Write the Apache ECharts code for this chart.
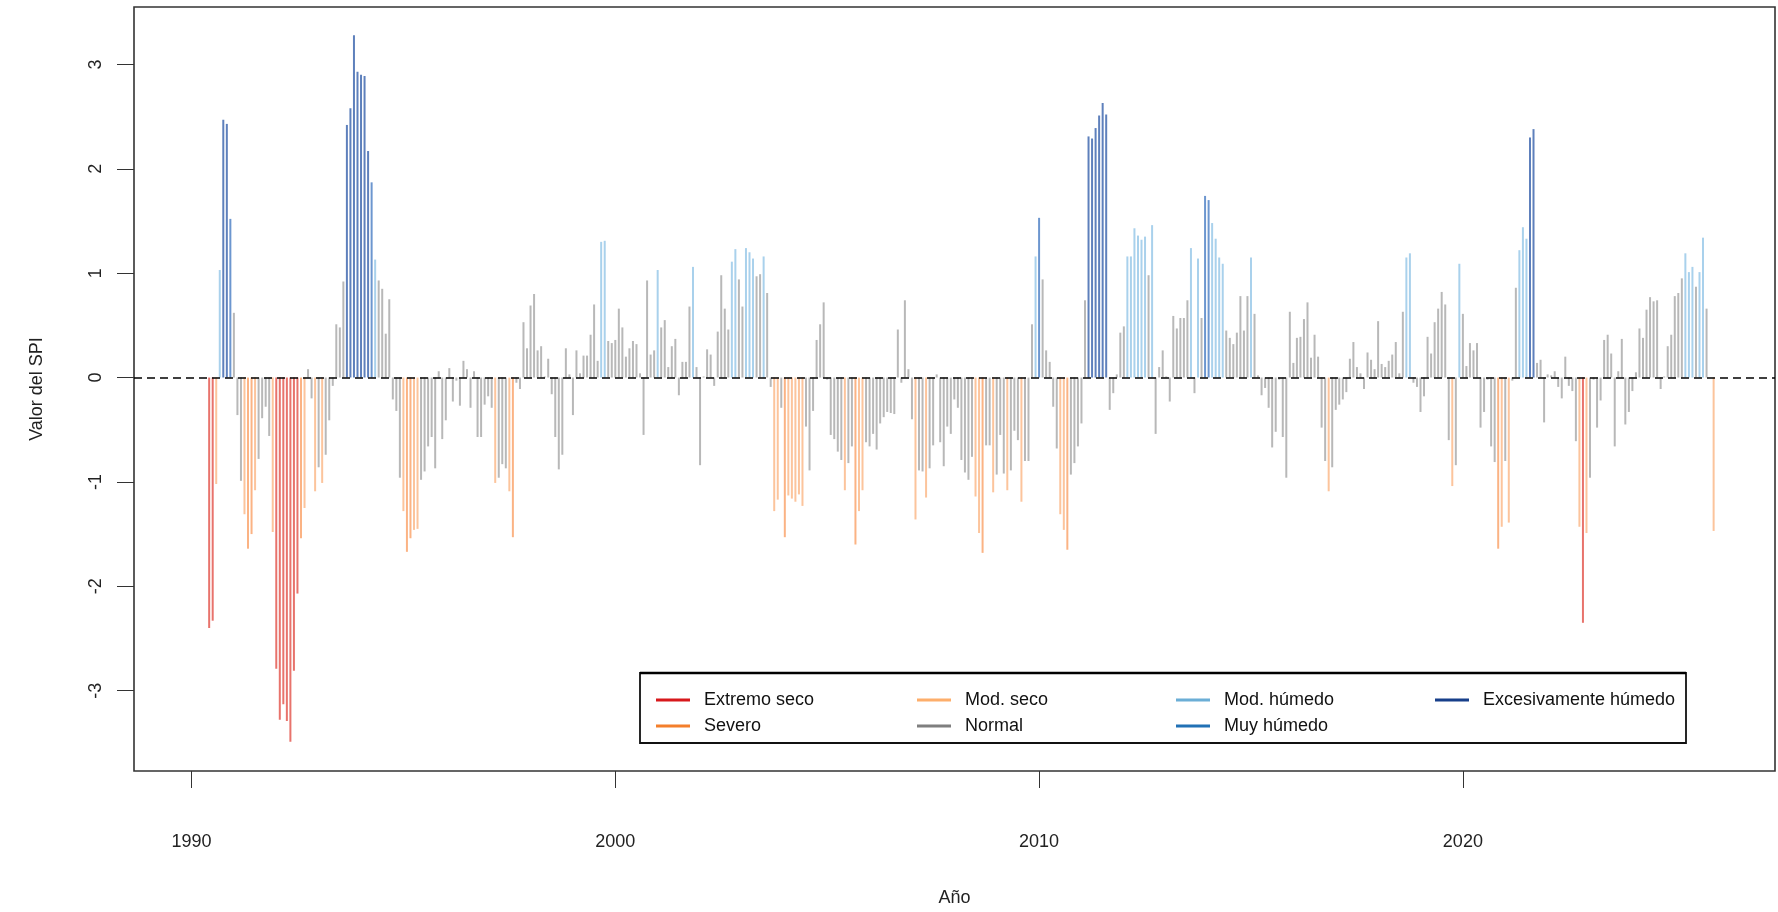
<!DOCTYPE html>
<html>
<head>
<meta charset="utf-8">
<script src="https://cdn.jsdelivr.net/npm/echarts@6/dist/echarts.min.js"></script>
<style>
html,body{margin:0;padding:0;background:#fff;}
#chart{width:1778px;height:912px;}
</style>
</head>
<body>
<div id="chart"></div>
<script>
// ---- Data (monthly SPI, first value = June 1990) ----
const START_YEAR = 1990;
const START_MONTH = 6;

const spi_1990_1994 = [
  -2.40,-2.33,-1.02,1.03,2.47,2.43,1.52,
  0.62,-0.36,-0.99,-1.31,-1.64,-1.50,-1.08,-0.78,-0.39,-0.28,-0.56,-1.48,
  -2.79,-3.28,-3.13,-3.29,-3.49,-2.81,-2.07,-1.54,-1.25,0.08,-0.20,-1.09,
  -0.86,-1.01,-0.74,-0.41,-0.08,0.51,0.48,0.92,2.42,2.58,3.28,2.93,
  2.90,2.89,2.17,1.87,1.13,0.93,0.85,0.42,0.75,-0.21,-0.32,-0.96
];
const spi_1995_1999 = [
  -1.28,-1.67,-1.54,-1.46,-1.45,-0.98,-0.90,-0.66,-0.57,-0.87,0.06,-0.59,
  -0.41,0.09,-0.23,-0.03,-0.27,0.16,0.08,-0.29,0.06,-0.57,-0.57,-0.26,
  -0.18,-0.29,-1.01,-0.96,-0.83,-0.87,-1.09,-1.53,-0.05,-0.11,0.53,0.28,
  0.69,0.80,0.26,0.30,0.01,0.18,-0.16,-0.57,-0.88,-0.74,0.28,0.03,
  -0.36,0.26,0.04,0.21,0.21,0.41,0.70,0.16,1.30,1.31,0.35,0.33
];
const spi_2000_2004 = [
  0.36,0.66,0.48,0.20,0.28,0.35,0.32,0.04,-0.55,0.93,0.22,0.26,
  1.03,0.48,0.55,0.10,0.30,0.37,-0.17,0.15,0.15,0.68,1.06,0.10,
  -0.84,0.01,0.27,0.22,-0.08,0.44,0.98,0.66,0.46,1.11,1.23,0.94,
  0.68,1.24,1.20,1.14,0.97,0.99,1.16,0.81,-0.09,-1.28,-1.17,-0.29,
  -1.53,-1.13,-1.16,-1.19,-1.12,-1.23,-0.47,-0.89,-0.32,0.36,0.51,0.72
];
const spi_2005_2009 = [
  -0.02,-0.55,-0.59,-0.71,-0.79,-1.08,-0.82,-0.66,-1.60,-1.28,-1.08,-0.62,
  -0.66,-0.54,-0.69,-0.44,-0.38,-0.33,-0.34,-0.35,0.46,-0.05,0.74,0.08,
  -0.40,-1.36,-0.89,-0.90,-1.15,-0.87,-0.65,0.03,-0.62,-0.85,-0.47,-0.54,
  -0.21,-0.29,-0.79,-0.91,-0.98,-0.76,-1.14,-1.49,-1.68,-0.65,-0.65,-1.10,
  -0.93,-0.55,-0.92,-1.08,-0.89,-0.51,-0.60,-1.19,-0.80,-0.80,0.51,1.16
];
const spi_2010_2014 = [
  1.53,0.94,0.26,0.15,-0.28,-0.68,-1.31,-1.46,-1.65,-0.93,-0.82,-0.66,
  -0.44,0.74,2.31,2.29,2.39,2.51,2.63,2.52,-0.31,-0.15,0.03,0.43,
  0.49,1.16,1.16,1.43,1.36,1.32,1.35,0.98,1.46,-0.54,0.10,0.26,
  0.01,-0.23,0.59,0.47,0.57,0.57,0.74,1.24,-0.15,1.14,0.57,1.74,
  1.70,1.48,1.33,1.15,1.09,0.45,0.38,0.32,0.43,0.78,0.45,0.78
];
const spi_2015_2019 = [
  1.15,0.61,0.02,-0.17,-0.10,-0.29,-0.67,-0.52,-0.02,-0.57,-0.96,0.63,
  0.14,0.38,0.39,0.56,0.72,0.19,0.41,0.20,-0.48,-0.80,-1.09,-0.86,
  -0.31,-0.26,-0.21,-0.14,0.18,0.34,0.10,0.04,-0.11,0.24,0.17,0.08,
  0.54,0.13,0.10,0.16,0.22,0.34,0.04,0.63,1.15,1.19,-0.05,-0.09,
  -0.33,-0.18,0.39,0.23,0.53,0.66,0.82,0.70,-0.60,-1.04,-0.84,1.09
];
const spi_2020_2025 = [
  0.61,0.11,0.33,0.26,0.33,-0.48,-0.33,-0.02,-0.66,-0.81,-1.64,-1.43,
  -0.80,-1.39,-0.03,0.86,1.22,1.44,1.33,2.30,2.38,0.14,0.17,-0.43,
  0.03,0.02,0.06,-0.09,-0.20,0.20,-0.08,-0.13,-0.61,-1.43,-2.35,-1.49,
  -0.96,-0.02,-0.48,-0.22,0.36,0.41,0.23,-0.66,0.06,0.37,-0.45,-0.33,
  -0.13,0.05,0.47,0.38,0.65,0.77,0.73,0.74,-0.11,0.01,0.30,0.41,
  0.78,0.81,0.95,1.19,1.01,1.06,0.87,1.01,1.34,0.66,null,-1.47
];

const classNames = ['Extremo seco','Severo','Mod. seco','Normal','Mod. húmedo','Muy húmedo','Excesivamente húmedo'];
const legendColors = ['#d7191c','#f47f2b','#fdae6b','#7f7f7f','#6baed6','#2171b5','#173f8a'];
const barColors    = ['#e8736c','#fbb384','#fcc49c','#b8b8b8','#a9d1ec','#6c96cf','#5e80bc'];

const xTicks = [1990, 2000, 2010, 2020];
const yTicks = [-3, -2, -1, 0, 1, 2, 3];

// ---- Build ----
const spiAll = [].concat(spi_1990_1994, spi_1995_1999, spi_2000_2004, spi_2005_2009,
                         spi_2010_2014, spi_2015_2019, spi_2020_2025);

function classOf(v) {
  if (v <= -2.0) return 0;
  if (v <= -1.5) return 1;
  if (v <= -1.0) return 2;
  if (v < 1.0) return 3;
  if (v < 1.5) return 4;
  if (v < 2.0) return 5;
  return 6;
}

const perClass = classNames.map(() => []);
spiAll.forEach((v, i) => {
  if (v === null) return;
  const t = START_YEAR + (START_MONTH - 1 + i) / 12;
  perClass[classOf(v)].push([t, v]);
});

const FONT = '"Liberation Sans", Arial, Helvetica, sans-serif';

const series = classNames.map((name, k) => {
  const s = {
    name: name,
    type: 'bar',
    data: perClass[k],
    barWidth: 2,
    barGap: '-100%',
    itemStyle: { color: barColors[k] },
    emphasis: { disabled: true },
    silent: true,
    z: 2
  };
  if (k === classNames.length - 1) {
    s.markLine = {
      silent: true,
      symbol: ['none', 'none'],
      label: { show: false },
      lineStyle: { color: '#000', type: [8, 5], width: 1.6 },
      data: [{ yAxis: 0 }],
      z: 5
    };
  }
  return s;
});

function legendBlock(names, left) {
  return {
    orient: 'vertical',
    left: left,
    top: 691,
    itemWidth: 34,
    itemHeight: 3,
    itemGap: 8,
    icon: 'rect',
    selectedMode: false,
    padding: 0,
    textStyle: { fontSize: 18, color: '#111', fontFamily: FONT, lineHeight: 18, padding: [0, 0, 0, 9] },
    data: names.map(n => ({ name: n, itemStyle: { color: legendColors[classNames.indexOf(n)] } }))
  };
}

const chart = echarts.init(document.getElementById('chart'), null, { renderer: 'canvas' });
chart.setOption({
  animation: false,
  backgroundColor: '#fff',
  textStyle: { fontFamily: FONT },
  grid: {
    left: 134, right: 3, top: 7, bottom: 132,
    show: true, borderColor: '#333', borderWidth: 1.6, backgroundColor: 'transparent'
  },
  xAxis: {
    type: 'value',
    min: 1988.643, max: 2027.365,
    axisLine: { show: false, onZero: false },
    splitLine: { show: false },
    axisTick: { show: true, customValues: xTicks, length: 17, lineStyle: { color: '#333', width: 1 } },
    axisLabel: { customValues: xTicks, fontSize: 18, color: '#222', margin: 62, fontFamily: FONT,
                 formatter: v => String(Math.round(v)) },
    name: 'Año',
    nameLocation: 'middle',
    nameGap: 118,
    nameTextStyle: { fontSize: 18, color: '#222', fontFamily: FONT }
  },
  yAxis: {
    type: 'value',
    min: -3.77, max: 3.55,
    axisLine: { show: false, onZero: false },
    splitLine: { show: false },
    axisTick: { show: true, customValues: yTicks, length: 17, lineStyle: { color: '#333', width: 1 } },
    axisLabel: { customValues: yTicks, rotate: 90, fontSize: 18, color: '#222', margin: 29, fontFamily: FONT,
                 formatter: v => String(Math.round(v)) },
    name: 'Valor del SPI',
    nameLocation: 'middle',
    nameGap: 88,
    nameTextStyle: { fontSize: 18, color: '#222', fontFamily: FONT }
  },
  legend: [
    legendBlock(['Extremo seco', 'Severo'], 656),
    legendBlock(['Mod. seco', 'Normal'], 917),
    legendBlock(['Mod. húmedo', 'Muy húmedo'], 1176),
    legendBlock(['Excesivamente húmedo'], 1435)
  ],
  graphic: [
    { type: 'rect', shape: { x: 640, y: 673, width: 1046, height: 70 },
      style: { fill: 'none', stroke: '#111', lineWidth: 1.8 }, z: 10, silent: true },
    { type: 'line', shape: { x1: 640, y1: 673, x2: 1686, y2: 673 },
      style: { stroke: '#000', lineWidth: 2.5 }, z: 10, silent: true }
  ],
  series: series
});
</script>
</body>
</html>
